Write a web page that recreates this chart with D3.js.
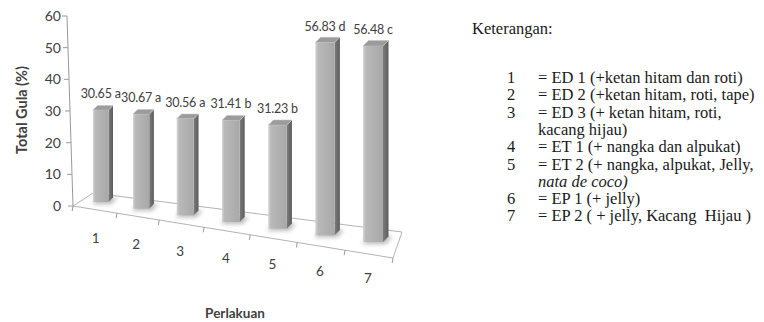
<!DOCTYPE html>
<html>
<head>
<meta charset="utf-8">
<script src="https://cdn.jsdelivr.net/npm/d3@7"></script>
<style>
  body { margin: 0; background: #fff; }
  svg { display: block; }
  .serif { font-family: "Liberation Serif", "DejaVu Serif", serif; }
</style>
</head>
<body>
<svg id="chart" width="764" height="322"></svg>
<script>
// data
var categories = ["1", "2", "3", "4", "5", "6", "7"];
var totalGula = [30.65, 30.67, 30.56, 31.41, 31.23, 56.83, 56.48];
var notasi = ["a", "a", "a", "b", "b", "d", "c"];
var yTicks = [0, 10, 20, 30, 40, 50, 60];

var legendNums = ["1", "2", "3", "", "4", "5", "", "6", "7"];
var legendText = [
  "= ED 1 (+ketan hitam dan roti)",
  "= ED 2 (+ketan hitam, roti, tape)",
  "= ED 3 (+ ketan hitam, roti,",
  "kacang hijau)",
  "= ET 1 (+ nangka dan alpukat)",
  "= ET 2 (+ nangka, alpukat, Jelly,",
  "nata de coco)",
  "= EP 1 (+ jelly)",
  "= EP 2 ( + jelly, Kacang  Hijau )"
];
var legendItalic = [false, false, false, false, false, false, true, false, false];

var svg = d3.select("#chart");
var chartFont = "Lato, 'Open Sans', sans-serif";
var txtColor = "#404040";

//-------------------
// perspective scales (fake 3D like the excel chart)
//-------------------
var n = categories.length;
var idx = d3.scaleOrdinal().domain(categories).range(d3.range(n));
var xFront = d3.scalePow().exponent(1.066).domain([0, n - 1]).range([93, 363]);
var barW = d3.scaleLinear().domain([0, n - 1]).range([15.5, 20]);
var baseY = d3.scaleLinear().domain([0, n - 1]).range([202, 242]);
var pxPer = d3.scaleLinear().domain([0, n - 1]).range([3.0, 3.47]);
var depthX = d3.scaleLinear().domain([0, n - 1]).range([4.5, 5.5]);
var depthY = d3.scaleLinear().domain([0, n - 1]).range([-4.5, -5.5]);

function yBar(i) {
  return d3.scaleLinear().domain([0, 60]).range([baseY(i), baseY(i) - 60 * pxPer(i)]);
}
function cx(i) { return xFront(i) + barW(i) / 2; }

// y axis (slightly slanted)
var yAxis = d3.scaleLinear().domain([0, 60]).range([206, 16]);
var axisX = d3.scaleLinear().domain([0, 60]).range([73, 67]);

// floor
var floor = [[73, 206], [93, 193], [402, 232], [393, 258]];
var frontY = d3.scaleLinear().domain([73, 393]).range([206, 258]);

//-------------------
// defs
//-------------------
var defs = svg.append("defs");
var gFront = defs.append("linearGradient").attr("id", "gFront").attr("x1", 0).attr("x2", 1).attr("y1", 0).attr("y2", 0);
gFront.append("stop").attr("offset", "0%").attr("stop-color", "#d6d6d6");
gFront.append("stop").attr("offset", "14%").attr("stop-color", "#b9b9b9");
gFront.append("stop").attr("offset", "100%").attr("stop-color", "#a8a8a8");
var gSide = defs.append("linearGradient").attr("id", "gSide").attr("x1", 0).attr("x2", 1).attr("y1", 0).attr("y2", 0);
gSide.append("stop").attr("offset", "0%").attr("stop-color", "#7c7c7c");
gSide.append("stop").attr("offset", "100%").attr("stop-color", "#5c5c5c");
defs.append("filter").attr("id", "blur").attr("x", "-50%").attr("y", "-50%").attr("width", "200%").attr("height", "200%")
  .append("feGaussianBlur").attr("stdDeviation", 2.2);

//-------------------
// floor
//-------------------
svg.append("polygon")
  .attr("points", floor.map(function(p) { return p.join(","); }).join(" "))
  .attr("fill", "#fff")
  .attr("stroke", "#b3b3b3")
  .attr("stroke-width", 1);

// category boundary ticks on the front edge
var bounds = [73];
for (var k = 1; k < n; k++) {
  bounds.push((cx(k - 1) + cx(k)) / 2 - 4);
}
bounds.push(393);
svg.append("g").selectAll("line")
  .data(bounds)
  .enter().append("line")
  .attr("x1", function(d) { return d; })
  .attr("y1", function(d) { return frontY(d); })
  .attr("x2", function(d) { return d - 0.8; })
  .attr("y2", function(d) { return frontY(d) + 5; })
  .attr("stroke", "#9a9a9a")
  .attr("stroke-width", 1);

//-------------------
// y axis
//-------------------
var yG = svg.append("g");
yG.append("line")
  .attr("x1", axisX(0)).attr("y1", yAxis(0))
  .attr("x2", axisX(60)).attr("y2", yAxis(60))
  .attr("stroke", "#9a9a9a");
yG.selectAll(".tk")
  .data(yTicks)
  .enter().append("line")
  .attr("x1", function(d) { return axisX(d) - 5; })
  .attr("x2", function(d) { return axisX(d); })
  .attr("y1", function(d) { return yAxis(d); })
  .attr("y2", function(d) { return yAxis(d); })
  .attr("stroke", "#9a9a9a");
yG.selectAll("text")
  .data(yTicks)
  .enter().append("text")
  .attr("x", 61)
  .attr("y", function(d) { return yAxis(d); })
  .attr("dy", "0.35em")
  .attr("text-anchor", "end")
  .attr("font-family", chartFont)
  .attr("font-size", "14px")
  .attr("fill", txtColor)
  .text(function(d) { return d; });

//-------------------
// bars
//-------------------
var bars = svg.append("g").selectAll("g")
  .data(categories)
  .enter().append("g");

// soft shadow on the floor
bars.append("polygon")
  .attr("points", function(c) {
    var i = idx(c), x0 = xFront(i), w = barW(i), yb = baseY(i);
    var dx = depthX(i), dy = depthY(i);
    return [[x0 - 1, yb + 2], [x0 + w + 3, yb + 2], [x0 + w + dx + 4, yb + dy], [x0 + dx, yb + dy - 1]]
      .map(function(p) { return p.join(","); }).join(" ");
  })
  .attr("fill", "#8c8c8c")
  .attr("opacity", 0.6)
  .attr("filter", "url(#blur)");

// right side face
bars.append("polygon")
  .attr("points", function(c) {
    var i = idx(c), x0 = xFront(i), w = barW(i), yb = baseY(i);
    var yt = yBar(i)(totalGula[i]);
    var dx = depthX(i), dy = depthY(i);
    return [[x0 + w, yt], [x0 + w + dx, yt + dy], [x0 + w + dx, yb + dy], [x0 + w, yb]]
      .map(function(p) { return p.join(","); }).join(" ");
  })
  .attr("fill", "url(#gSide)");

// top face
bars.append("polygon")
  .attr("points", function(c) {
    var i = idx(c), x0 = xFront(i), w = barW(i);
    var yt = yBar(i)(totalGula[i]);
    var dx = depthX(i), dy = depthY(i);
    return [[x0, yt], [x0 + dx, yt + dy], [x0 + w + dx, yt + dy], [x0 + w, yt]]
      .map(function(p) { return p.join(","); }).join(" ");
  })
  .attr("fill", "#9b9b9b")
  .attr("stroke", "#c4c4c4")
  .attr("stroke-width", 0.6);

// front face
bars.append("rect")
  .attr("x", function(c) { return xFront(idx(c)); })
  .attr("y", function(c) { var i = idx(c); return yBar(i)(totalGula[i]); })
  .attr("width", function(c) { return barW(idx(c)); })
  .attr("height", function(c) { var i = idx(c); return baseY(i) - yBar(i)(totalGula[i]); })
  .attr("fill", "url(#gFront)");

// value labels
bars.append("text")
  .attr("x", function(c) { return cx(idx(c)); })
  .attr("y", function(c) { var i = idx(c); return yBar(i)(totalGula[i]) - 12; })
  .attr("text-anchor", "middle")
  .attr("font-family", chartFont)
  .attr("font-size", "12.5px")
  .attr("letter-spacing", "-0.2px")
  .attr("fill", txtColor)
  .text(function(c) { var i = idx(c); return totalGula[i].toFixed(2) + " " + notasi[i]; });

// category labels
bars.append("text")
  .attr("x", function(c) { return cx(idx(c)) - 5; })
  .attr("y", function(c) { return baseY(idx(c)) + 36; })
  .attr("dy", "0.35em")
  .attr("text-anchor", "middle")
  .attr("font-family", chartFont)
  .attr("font-size", "13.5px")
  .attr("fill", txtColor)
  .text(function(c) { return c; });

//-------------------
// axis titles
//-------------------
svg.append("text")
  .attr("transform", "translate(22,110) rotate(-90)")
  .attr("dy", "0.35em")
  .attr("text-anchor", "middle")
  .attr("font-family", chartFont)
  .attr("font-weight", "bold")
  .attr("font-size", "14.5px")
  .attr("fill", txtColor)
  .text("Total Gula (%)");

svg.append("text")
  .attr("x", 235)
  .attr("y", 313)
  .attr("dy", "0.35em")
  .attr("text-anchor", "middle")
  .attr("font-family", chartFont)
  .attr("font-weight", "bold")
  .attr("font-size", "13.5px")
  .attr("fill", txtColor)
  .text("Perlakuan");

//-------------------
// keterangan (legend text)
//-------------------
var leg = svg.append("g")
  .attr("fill", "#1a1a1a");

leg.append("text")
  .attr("class", "serif")
  .attr("font-size", "16.5px")
  .attr("x", 472)
  .attr("y", 34)
  .text("Keterangan:");

var rows = leg.selectAll(".row")
  .data(legendText)
  .enter().append("g")
  .attr("transform", function(d, i) { return "translate(0," + (83 + i * 17.3) + ")"; });

rows.append("text")
  .attr("class", "serif")
  .attr("font-size", "16.5px")
  .attr("x", 507)
  .text(function(d, i) { return legendNums[i]; });

rows.append("text")
  .attr("class", "serif")
  .attr("font-size", "16.5px")
  .attr("x", 538)
  .style("white-space", "pre")
  .attr("font-style", function(d, i) { return legendItalic[i] ? "italic" : "normal"; })
  .text(function(d) { return d; });
</script>
</body>
</html>
